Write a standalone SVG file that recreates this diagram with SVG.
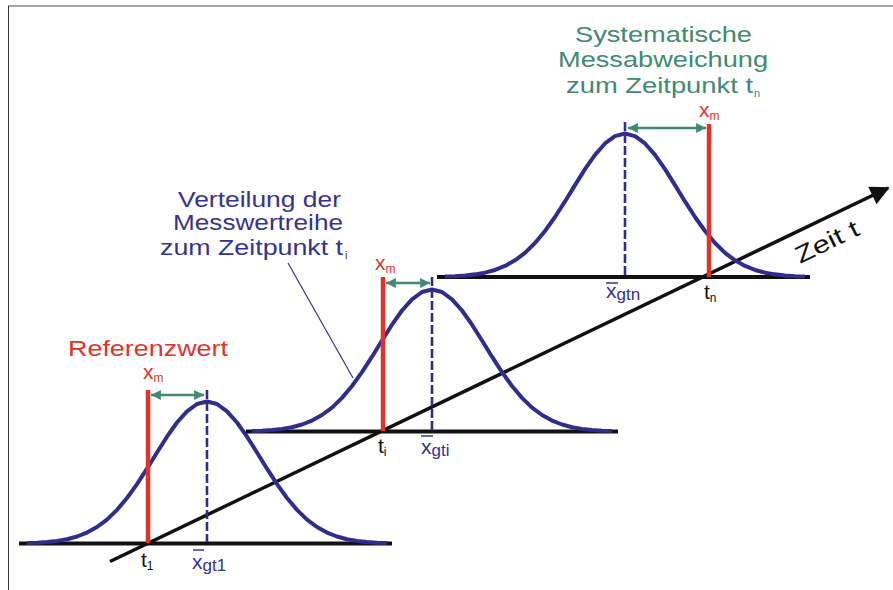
<svg xmlns="http://www.w3.org/2000/svg" xmlns:xlink="http://www.w3.org/1999/xlink" width="893" height="590" viewBox="0 0 893 590">
<style>
  text { font-family: "Liberation Sans", Arial, sans-serif; }
  .base { stroke: #111; stroke-width: 4; fill: none; }
  .curve { stroke: #302d8c; stroke-width: 4; fill: none; stroke-linejoin: round; }
  .mean { stroke: #302d8c; stroke-width: 2.6; stroke-dasharray: 9 3; }
  .ref { stroke: #e0332b; stroke-width: 4.5; }
  .dev { stroke: #3f8a72; stroke-width: 2.6; marker-start: url(#garrow); marker-end: url(#garrow); }
  .red { fill: #e0332b; }
  .blue { fill: #35338f; }
  .green { fill: #3f8a72; }
  .black { fill: #111; }
  .big { font-size: 22px; }
  .var { font-size: 21px; }
  .sub { font-size: 12px; }
  .subb { font-size: 17px; }
  .bar { stroke: #35338f; stroke-width: 1.5; }
</style>
<defs>
  <path id="gauss" d="M-180,-0.4 L-170,-0.8 L-160,-1.5 L-150,-2.6 L-140,-4.3 L-130,-7 L-120,-10.9 L-110,-16.5 L-100,-23.9 L-90,-33.6 L-80,-45.5 L-70,-59.4 L-60,-74.8 L-50,-91 L-40,-106.8 L-30,-121 L-20,-132.2 L-10,-139.5 L0,-142 L10,-139.5 L20,-132.2 L30,-121 L40,-106.8 L50,-91 L60,-74.8 L70,-59.4 L80,-45.5 L90,-33.6 L100,-23.9 L110,-16.5 L120,-10.9 L130,-7 L140,-4.3 L150,-2.6 L160,-1.5 L170,-0.8 L180,-0.4"/>
  <marker id="garrow" viewBox="0 0 10 10" refX="10" refY="5" markerWidth="4.2" markerHeight="3.8" markerUnits="strokeWidth" orient="auto-start-reverse">
    <path d="M0,0 L10,5 L0,10 z" fill="#3f8a72"/>
  </marker>
  <marker id="karrow" viewBox="0 0 10 10" refX="9" refY="5" markerWidth="6.5" markerHeight="5.5" markerUnits="strokeWidth" orient="auto">
    <path d="M0,0 L10,5 L0,10 z" fill="#111"/>
  </marker>
</defs>
<rect width="893" height="590" fill="#fff"/>
<g id="frame">
  <line x1="8" y1="6" x2="893" y2="6" stroke="#a6a6a6" stroke-width="2"/>
  <line x1="8.5" y1="6" x2="8.5" y2="590" stroke="#333" stroke-width="1"/>
</g>
<g id="connectors">
  <line id="time-axis" x1="110" y1="561.5" x2="888" y2="188" stroke="#111" stroke-width="3.5" marker-end="url(#karrow)"/>
  <line id="leader" x1="288" y1="263" x2="353" y2="378" stroke="#35338f" stroke-width="1.2"/>
</g>
<g id="dist-t1">
  <line class="base" x1="19" y1="543.5" x2="392" y2="543.5"/>
  <use xlink:href="#gauss" class="curve" transform="translate(207,543.5)"/>
  <line class="mean" x1="207" y1="390" x2="207" y2="542"/>
  <line class="ref" x1="148" y1="390" x2="148" y2="543"/>
  <line class="dev" x1="151" y1="395" x2="204" y2="395"/>
  <text class="red var" x="143" y="379">x<tspan class="sub" dy="3">m</tspan></text>
  <text class="black var" x="141" y="567">t<tspan class="sub" dy="3">1</tspan></text>
  <line class="bar" x1="193" y1="550" x2="204" y2="550"/>
  <text class="blue var" x="192" y="569">x<tspan class="subb" dy="2">gt1</tspan></text>
</g>
<g id="dist-ti">
  <line class="base" x1="246" y1="431.5" x2="618" y2="431.5"/>
  <use xlink:href="#gauss" class="curve" transform="translate(432,431.5)"/>
  <line class="mean" x1="432" y1="277" x2="432" y2="430"/>
  <line class="ref" x1="383" y1="277" x2="383" y2="431"/>
  <line class="dev" x1="386" y1="283" x2="430" y2="283"/>
  <text class="red var" x="375" y="270">x<tspan class="sub" dy="3">m</tspan></text>
  <text class="black var" x="378" y="453">t<tspan class="sub" dy="3">i</tspan></text>
  <line class="bar" x1="421" y1="436" x2="433" y2="436"/>
  <text class="blue var" x="421" y="454">x<tspan class="subb" dy="2">gti</tspan></text>
</g>
<g id="dist-tn">
  <line class="base" x1="437" y1="277" x2="810" y2="277"/>
  <use xlink:href="#gauss" class="curve" transform="translate(625,277) scale(1,1.01)"/>
  <line class="mean" x1="625" y1="122" x2="625" y2="276"/>
  <line class="ref" x1="709" y1="124" x2="709" y2="277"/>
  <line class="dev" x1="628" y1="128" x2="706" y2="128"/>
  <text class="red var" x="699" y="117">x<tspan class="sub" dy="3">m</tspan></text>
  <text class="black var" x="704" y="299">t<tspan class="sub" dy="3">n</tspan></text>
  <line class="bar" x1="606" y1="283" x2="618" y2="283"/>
  <text class="blue var" x="606" y="298">x<tspan class="subb" dy="2">gtn</tspan></text>
</g>
<g id="label-referenzwert">
  <text class="red big" x="68" y="356" textLength="160" lengthAdjust="spacingAndGlyphs">Referenzwert</text>
</g>
<g id="label-verteilung">
  <text class="blue big" x="178" y="207" textLength="163" lengthAdjust="spacingAndGlyphs">Verteilung der</text>
  <text class="blue big" x="173" y="230" textLength="170" lengthAdjust="spacingAndGlyphs">Messwertreihe</text>
  <text class="blue big" x="160" y="255" textLength="183" lengthAdjust="spacingAndGlyphs">zum Zeitpunkt t</text>
  <text class="blue" x="345" y="259" font-size="11">i</text>
</g>
<g id="label-systematisch">
  <text class="green big" x="575" y="42" textLength="177" lengthAdjust="spacingAndGlyphs">Systematische</text>
  <text class="green big" x="558" y="67" textLength="210" lengthAdjust="spacingAndGlyphs">Messabweichung</text>
  <text class="green big" x="566" y="93" textLength="187" lengthAdjust="spacingAndGlyphs">zum Zeitpunkt t</text>
  <text class="green" x="754" y="97" font-size="11">n</text>
</g>
<g id="label-zeit">
  <text class="black" font-size="24" transform="translate(800,264) rotate(-26)" textLength="68" lengthAdjust="spacingAndGlyphs">Zeit t</text>
</g>
</svg>
